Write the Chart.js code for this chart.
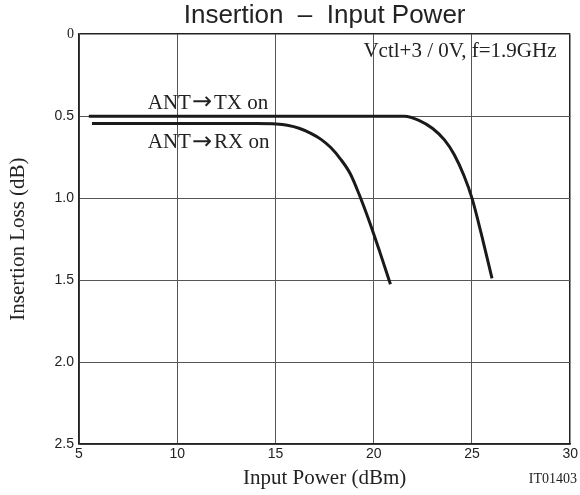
<!DOCTYPE html>
<html>
<head>
<meta charset="utf-8">
<script src="https://cdn.jsdelivr.net/npm/chart.js@4.4.1/dist/chart.umd.min.js"></script>
<style>
  html, body { margin: 0; padding: 0; background: #fff; }
</style>
</head>
<body>
<canvas id="myChart1" width="580" height="495"></canvas>
<script>
// ANT -> TX on
const txPower = [5.5, 10, 15, 21.56, 22.3, 23.0, 23.6, 24.1, 24.6, 25.0, 25.5, 26.02];
const txLoss  = [0.5, 0.5, 0.5, 0.5, 0.525, 0.575, 0.645, 0.735, 0.865, 1.0, 1.23, 1.49];

// ANT -> RX on
const rxPower = [5.66, 10, 14, 15.04, 15.6, 16.2, 16.8, 17.3, 17.8, 18.3, 18.8, 19.3, 19.8, 20.3, 20.85];
const rxLoss  = [0.545, 0.545, 0.545, 0.548, 0.556, 0.574, 0.605, 0.64, 0.69, 0.76, 0.85, 0.99, 1.15, 1.325, 1.525];

const xTicks = [5, 10, 15, 20, 25, 30];
const yTicks = [0, 0.5, 1.0, 1.5, 2.0, 2.5];
const yTickLabels = ['0', '0.5', '1.0', '1.5', '2.0', '2.5'];

const ctx = document.getElementById('myChart1');

const sans = '"Liberation Sans", Arial, sans-serif';
const serif = '"Liberation Serif", "Times New Roman", serif';

// label with a long arrow between the two parts
function arrowLabel(c, left, right, x, y) {
  c.font = '21px ' + serif;
  c.fillText(left, x, y);
  x += c.measureText(left).width + 1;
  c.font = '24px "DejaVu Sans"';
  c.fillText('\u2192', x, y);
  x += c.measureText('\u2192').width + 2;
  c.font = '21px ' + serif;
  c.fillText(right, x, y);
}

const notes = {
  id: 'notes',
  afterDraw(chart) {
    const c = chart.ctx;
    const xs = chart.scales.x, ys = chart.scales.y;
    c.save();
    c.fillStyle = '#222';
    c.textBaseline = 'middle';
    c.font = '21px ' + serif;
    c.textAlign = 'right';
    c.fillText('Vctl+3 / 0V, f=1.9GHz', xs.getPixelForValue(29.3), ys.getPixelForValue(0.105));
    c.textAlign = 'left';
    arrowLabel(c, 'ANT', 'TX on', xs.getPixelForValue(8.5), ys.getPixelForValue(0.42));
    arrowLabel(c, 'ANT', 'RX on', xs.getPixelForValue(8.5), ys.getPixelForValue(0.66));
    c.font = '14px ' + serif;
    c.textAlign = 'right';
    c.fillText('IT01403', 577, 479);
    c.restore();
  }
};

new Chart(ctx, {
  type: 'line',
  data: {
    datasets: [{
      label: 'ANT\u2192TX on',
      data: txPower.map((p, i) => ({ x: p, y: txLoss[i] })),
      borderColor: '#1a1a1a',
      borderWidth: 3,
      pointRadius: 0,
      cubicInterpolationMode: 'monotone',
      fill: false
    }, {
      label: 'ANT\u2192RX on',
      data: rxPower.map((p, i) => ({ x: p, y: rxLoss[i] })),
      borderColor: '#1a1a1a',
      borderWidth: 3,
      pointRadius: 0,
      cubicInterpolationMode: 'monotone',
      fill: false
    }]
  },
  options: {
    responsive: false,
    animation: false,
    layout: { padding: { left: 0, right: 7, top: 0, bottom: 0 } },
    plugins: {
      legend: { display: false },
      tooltip: { enabled: false },
      title: {
        display: true,
        fullSize: false,
        text: 'Insertion  \u2013  Input Power',
        color: '#222',
        font: { family: sans, size: 26, weight: 'normal' },
        padding: { top: 0, bottom: 3 }
      }
    },
    scales: {
      x: {
        type: 'linear',
        min: 5,
        max: 30,
        afterBuildTicks: s => { s.ticks = xTicks.map(v => ({ value: v })); },
        afterFit: s => { s.height = 51; },
        ticks: {
          color: '#222',
          padding: 2,
          maxRotation: 0,
          font: { family: sans, size: 14 }
        },
        grid: {
          color: c => (c.tick && c.tick.value === 30) ? '#222' : '#555',
          lineWidth: c => (c.tick && c.tick.value === 30) ? 1.5 : 1,
          drawTicks: false
        },
        border: { color: '#222', width: 1.5 },
        title: {
          display: true,
          text: 'Input Power (dBm)',
          color: '#222',
          font: { family: serif, size: 21 },
          padding: 4
        }
      },
      y: {
        type: 'linear',
        reverse: true,
        min: 0,
        max: 2.5,
        afterBuildTicks: s => { s.ticks = yTicks.map(v => ({ value: v })); },
        afterFit: s => { s.width = 79; },
        ticks: {
          color: '#222',
          padding: 5,
          font: c => ({ family: (c.tick && c.tick.value === 0) ? serif : sans, size: 14 }),
          callback: v => yTickLabels[yTicks.indexOf(v)]
        },
        grid: {
          color: c => (c.tick && c.tick.value === 0) ? '#222' : '#555',
          lineWidth: c => (c.tick && c.tick.value === 0) ? 1.5 : 1,
          drawTicks: false
        },
        border: { color: '#222', width: 1.5 },
        title: {
          display: true,
          text: 'Insertion Loss (dB)',
          color: '#222',
          font: { family: serif, size: 21 },
          padding: 6
        }
      }
    }
  },
  plugins: [notes]
});
</script>
</body>
</html>
